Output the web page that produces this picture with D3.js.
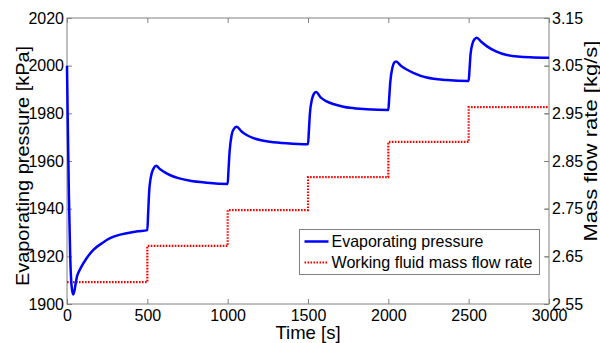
<!DOCTYPE html>
<html>
<head>
<meta charset="utf-8">
<script src="https://cdn.jsdelivr.net/npm/d3@7"></script>
<style>
  body { margin: 0; background: #fff; }
  text { font-family: "Liberation Sans", Arial, sans-serif; fill: #000; }
</style>
</head>
<body>
<div class="chart"></div>
<script>
var svgWidth = 600;
var svgHeight = 343;

var margin = { top: 18, right: 51, bottom: 39, left: 67 };
var width = svgWidth - margin.left - margin.right;
var height = svgHeight - margin.top - margin.bottom;

// evaporating pressure [kPa]
var timeP = [0, 5, 12, 20, 28, 38, 46, 55, 62, 70, 90, 120, 164, 220, 268, 320, 372, 440, 500,
  505, 512, 520, 527, 540, 554, 580, 620, 662, 693, 766, 870, 1000,
  1005, 1012, 1025, 1040, 1056, 1085, 1118, 1160, 1201, 1263, 1367, 1500,
  1505, 1512, 1525, 1538, 1550, 1580, 1616, 1657, 1720, 1761, 1865, 2000,
  2005, 2012, 2025, 2036, 2048, 2080, 2114, 2155, 2239, 2363, 2500,
  2505, 2512, 2525, 2538, 2550, 2580, 2612, 2670, 2737, 2882, 3000];
var pressure = [2000, 1975, 1945, 1920, 1908, 1904, 1905.5, 1909, 1911.5, 1913, 1915.7, 1919, 1922.7, 1925.6, 1927.6, 1928.9, 1929.7, 1930.5, 1931,
  1938, 1947.8, 1952.5, 1954.8, 1957, 1958, 1956.5, 1954.8, 1953.5, 1952.8, 1951.7, 1950.9, 1950.4,
  1956, 1964, 1971, 1973.6, 1974.4, 1972.5, 1970.9, 1969.6, 1968.8, 1968.1, 1967.4, 1967,
  1972, 1980, 1986, 1988.3, 1988.9, 1986.6, 1985.0, 1983.9, 1982.8, 1982.3, 1981.7, 1981.4,
  1986, 1993, 1999, 2001.2, 2001.7, 1999.9, 1998.4, 1997.0, 1995.0, 1994.0, 1993.6,
  1998, 2005, 2009.5, 2011.2, 2011.7, 2009.9, 2008.2, 2006.0, 2004.5, 2003.5, 2003.3];

// working fluid mass flow rate [kg/s]
var timeM = [0, 500, 1000, 1500, 2000, 2500, 3000];
var massFlow = [2.596, 2.672, 2.747, 2.816, 2.890, 2.963, 2.963];

var xTicks = [0, 500, 1000, 1500, 2000, 2500, 3000];
var yLeftTicks = [1900, 1920, 1940, 1960, 1980, 2000, 2020];
var yRightTicks = [2.55, 2.65, 2.75, 2.85, 2.95, 3.05, 3.15];

var svg = d3.select(".chart")
  .append("svg")
  .attr("width", svgWidth)
  .attr("height", svgHeight);

var chartGroup = svg.append("g")
  .attr("transform", `translate(${margin.left}, ${margin.top})`);

var xScale = d3.scaleLinear().domain([0, 3000]).range([0, width]);
var yLeft = d3.scaleLinear().domain([1900, 2020]).range([height, 0]);
var yRight = d3.scaleLinear().domain([2.55, 3.15]).range([height, 0]);

var axisColor = "#808080";

function styleAxis(g) {
  g.select(".domain").remove();
  g.selectAll(".tick line").attr("stroke", axisColor);
  g.selectAll(".tick text").style("font-size", "16px").attr("fill", "#000");
}

// bottom / top
chartGroup.append("g")
  .attr("transform", `translate(0, ${height})`)
  .call(d3.axisBottom(xScale).tickValues(xTicks).tickSize(-5).tickPadding(6).tickFormat(d3.format("d")))
  .call(styleAxis);
chartGroup.append("g")
  .call(d3.axisTop(xScale).tickValues(xTicks).tickSize(-5).tickFormat(""))
  .call(styleAxis);

// left
chartGroup.append("g")
  .call(d3.axisLeft(yLeft).tickValues(yLeftTicks).tickSize(-5).tickPadding(3).tickFormat(d3.format("d")))
  .call(styleAxis);
chartGroup.append("g")
  .attr("transform", `translate(${width}, 0)`)
  .call(d3.axisRight(yLeft).tickValues(yLeftTicks).tickSize(-5).tickFormat(""))
  .call(styleAxis);

// right
chartGroup.append("g")
  .attr("transform", `translate(${width}, 0)`)
  .call(d3.axisRight(yRight).tickValues(yRightTicks).tickSize(-4).tickPadding(3).tickFormat(d3.format(".2f")))
  .call(styleAxis);

// box
chartGroup.append("rect")
  .attr("width", width)
  .attr("height", height)
  .attr("fill", "none")
  .attr("stroke", axisColor)
  .attr("stroke-width", 1);

// mass flow step line
var massLine = d3.line()
  .x((d, i) => xScale(timeM[i]))
  .y(d => yRight(d))
  .curve(d3.curveStepAfter);

chartGroup.append("path")
  .datum(massFlow)
  .attr("d", massLine)
  .attr("fill", "none")
  .attr("stroke", "#ff0000")
  .attr("stroke-width", 2.2)
  .attr("stroke-dasharray", "1.6,1.4");

// pressure line
var pLine = d3.line()
  .x((d, i) => xScale(timeP[i]))
  .y(d => yLeft(d))
  .curve(d3.curveMonotoneX);

chartGroup.append("path")
  .datum(pressure)
  .attr("d", pLine)
  .attr("fill", "none")
  .attr("stroke", "#0000ff")
  .attr("stroke-width", 2.5);

// legend
var legend = svg.append("g").attr("transform", "translate(299.5, 229.5)");
legend.append("rect")
  .attr("width", 240)
  .attr("height", 45)
  .attr("fill", "#fff")
  .attr("stroke", axisColor);
legend.append("line")
  .attr("x1", 5).attr("x2", 29).attr("y1", 12).attr("y2", 12)
  .attr("stroke", "#0000ff").attr("stroke-width", 2.5);
legend.append("line")
  .attr("x1", 5).attr("x2", 29).attr("y1", 33).attr("y2", 33)
  .attr("stroke", "#ff0000").attr("stroke-width", 2.2).attr("stroke-dasharray", "1.6,1.4");
legend.append("text").attr("x", 32).attr("y", 17.8).style("font-size", "16.5px")
  .attr("textLength", 152).attr("lengthAdjust", "spacingAndGlyphs").text("Evaporating pressure");
legend.append("text").attr("x", 32).attr("y", 38.6).style("font-size", "16.5px")
  .attr("textLength", 201).attr("lengthAdjust", "spacingAndGlyphs").text("Working fluid mass flow rate");

// axis titles
svg.append("text")
  .attr("x", margin.left + width / 2)
  .attr("y", 338.5)
  .attr("text-anchor", "middle")
  .style("font-size", "18.5px")
  .text("Time [s]");

svg.append("text")
  .attr("transform", "translate(28.5, 166) rotate(-90)")
  .attr("text-anchor", "middle")
  .style("font-size", "19px")
  .attr("textLength", 240).attr("lengthAdjust", "spacingAndGlyphs")
  .text("Evaporating pressure [kPa]");

svg.append("text")
  .attr("transform", "translate(597, 141) rotate(-90)")
  .attr("text-anchor", "middle")
  .style("font-size", "17.5px")
  .attr("textLength", 201).attr("lengthAdjust", "spacingAndGlyphs")
  .text("Mass flow rate [kg/s]");
</script>
</body>
</html>
